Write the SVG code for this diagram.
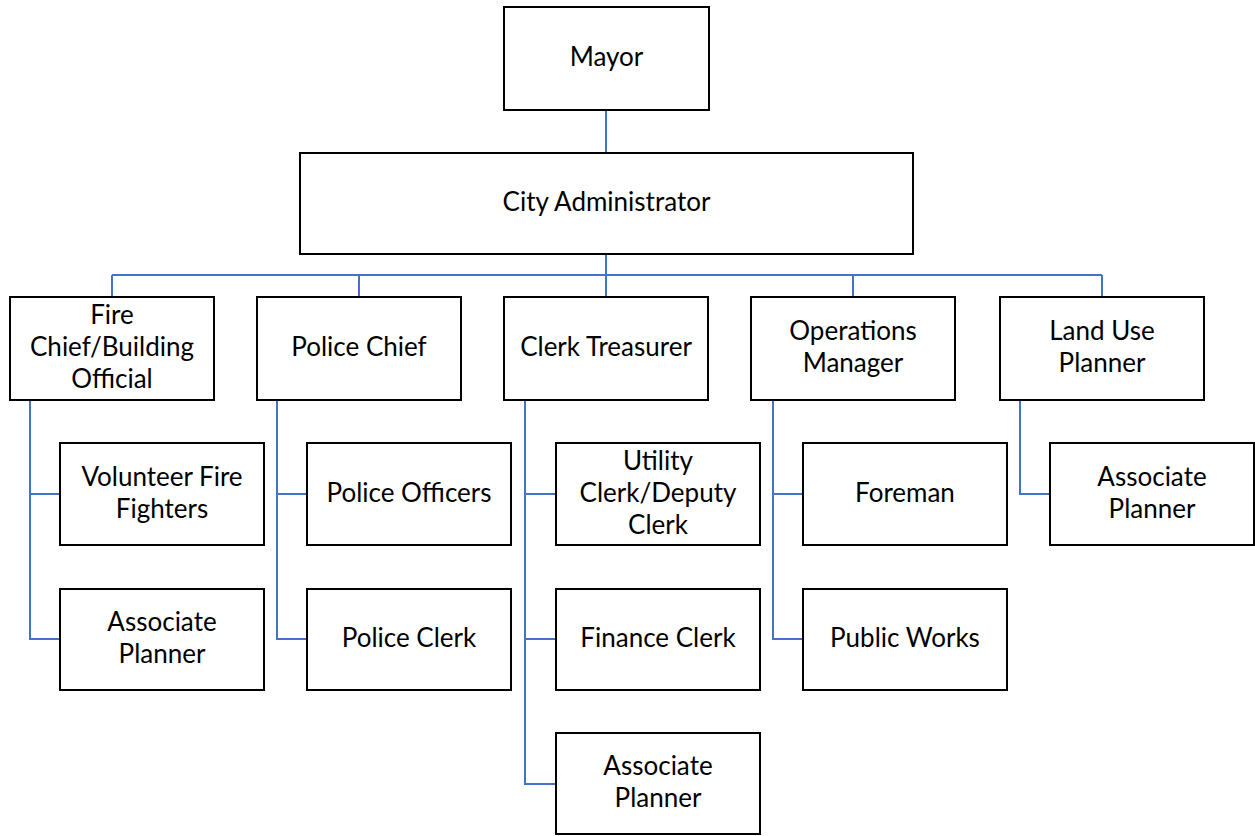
<svg xmlns="http://www.w3.org/2000/svg" width="1255" height="836" viewBox="0 0 1255 836">
<style>
.box{fill:#fff;stroke:#000;stroke-width:2}
.lbl{font-family:Lato,"Liberation Sans",sans-serif;font-size:26px;fill:#000;text-anchor:middle}
.con{fill:none;stroke:#4472C4;stroke-width:2}
</style>
<rect width="1255" height="836" fill="#fff"/>
<g id="connectors">
<path class="con" d="M606,110V153M606,254V297M112,275H1102M112,275V297M359,275V297M853,275V297M1102,275V297"/>
<path class="con" d="M30,400V639H60M30,494H60"/>
<path class="con" d="M277,400V639H307M277,494H307"/>
<path class="con" d="M525,400V784H556M525,494H556M525,639H556"/>
<path class="con" d="M773,400V639H803M773,494H803"/>
<path class="con" d="M1020,400V494H1050"/>
</g>
<g id="mayor"><rect class="box" x="504" y="7" width="205" height="103"/><text class="lbl" x="606.5" y="66">Mayor</text></g>
<g id="city-admin"><rect class="box" x="300" y="153" width="613" height="101"/><text class="lbl" x="606.5" y="211">City Administrator</text></g>
<g id="fire-chief"><rect class="box" x="10" y="297" width="204" height="103"/><text class="lbl" x="112" y="324">Fire</text><text class="lbl" x="112" y="356">Chief/Building</text><text class="lbl" x="112" y="388">Official</text></g>
<g id="police-chief"><rect class="box" x="257" y="297" width="204" height="103"/><text class="lbl" x="359" y="356">Police Chief</text></g>
<g id="clerk-treasurer"><rect class="box" x="504" y="297" width="204" height="103"/><text class="lbl" x="606" y="356">Clerk Treasurer</text></g>
<g id="operations-manager"><rect class="box" x="751" y="297" width="204" height="103"/><text class="lbl" x="853" y="340">Operations</text><text class="lbl" x="853" y="372">Manager</text></g>
<g id="land-use-planner"><rect class="box" x="1000" y="297" width="204" height="103"/><text class="lbl" x="1102" y="340">Land Use</text><text class="lbl" x="1102" y="372">Planner</text></g>
<g id="volunteer-fire-fighters"><rect class="box" x="60" y="443" width="204" height="102"/><text class="lbl" x="162" y="486">Volunteer Fire</text><text class="lbl" x="162" y="518">Fighters</text></g>
<g id="associate-planner-1"><rect class="box" x="60" y="589" width="204" height="101"/><text class="lbl" x="162" y="631">Associate</text><text class="lbl" x="162" y="663">Planner</text></g>
<g id="police-officers"><rect class="box" x="307" y="443" width="204" height="102"/><text class="lbl" x="409" y="502">Police Officers</text></g>
<g id="police-clerk"><rect class="box" x="307" y="589" width="204" height="101"/><text class="lbl" x="409" y="647">Police Clerk</text></g>
<g id="utility-clerk"><rect class="box" x="556" y="443" width="204" height="102"/><text class="lbl" x="658" y="470">Utility</text><text class="lbl" x="658" y="502">Clerk/Deputy</text><text class="lbl" x="658" y="534">Clerk</text></g>
<g id="finance-clerk"><rect class="box" x="556" y="589" width="204" height="101"/><text class="lbl" x="658" y="647">Finance Clerk</text></g>
<g id="associate-planner-2"><rect class="box" x="556" y="733" width="204" height="101"/><text class="lbl" x="658" y="775">Associate</text><text class="lbl" x="658" y="807">Planner</text></g>
<g id="foreman"><rect class="box" x="803" y="443" width="204" height="102"/><text class="lbl" x="905" y="502">Foreman</text></g>
<g id="public-works"><rect class="box" x="803" y="589" width="204" height="101"/><text class="lbl" x="905" y="647">Public Works</text></g>
<g id="associate-planner-3"><rect class="box" x="1050" y="443" width="204" height="102"/><text class="lbl" x="1152" y="486">Associate</text><text class="lbl" x="1152" y="518">Planner</text></g>
</svg>
